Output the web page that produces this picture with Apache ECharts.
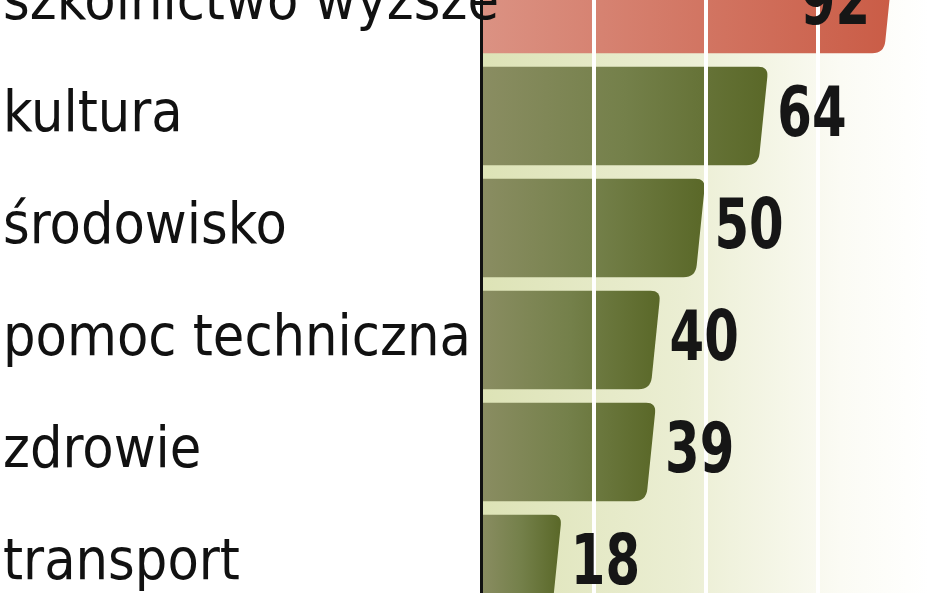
<!DOCTYPE html>
<html>
<head>
<meta charset="utf-8">
<script src="https://cdn.jsdelivr.net/npm/echarts@6/dist/echarts.min.js"></script>
<style>
  html, body { margin: 0; padding: 0; background: #fff; }
  #wrap { width: 948px; height: 593px; overflow: hidden; position: relative; }
  /* wykres jest wycinkiem: pierwszy i ostatni wiersz są przycięte */
  #chart { width: 948px; height: 672px; position: absolute; left: 0; top: -52px; }
</style>
</head>
<body>
<div id="wrap"><div id="chart"></div></div>
<script>
// dane
const categories = ['szkolnictwo wyższe', 'kultura', 'środowisko', 'pomoc techniczna', 'zdrowie', 'transport'];
const values = [92, 64, 50, 40, 39, 18];
const highlighted = 'szkolnictwo wyższe';

const chart = echarts.init(document.getElementById('chart'));
const FONT = 'DejaVu Sans Condensed, sans-serif';

// słupek ze skośną, zaokrągloną krawędzią
const renderBar = (params, api) => {
  const v = api.value(0);
  const idx = api.value(1);
  const start = api.coord([0, idx]);
  const end = api.coord([v, idx]);
  const h = api.size([0, 1])[1] * 0.88;
  const y0 = end[1] - h / 2;
  const y1 = end[1] + h / 2;
  const x0 = start[0];
  const xt = end[0];
  const xb = end[0] - 10;
  const rt = 10;
  const rb = 12;
  const len = Math.sqrt(100 + h * h);
  const d = [
    'M', x0, y0,
    'L', xt - rt, y0,
    'Q', xt, y0, xt - 10 * rt / len, y0 + h * rt / len,
    'L', xb + 10 * rb / len, y1 - h * rb / len,
    'Q', xb, y1, xb - rb, y1,
    'L', x0, y1, 'Z'
  ].join(' ');
  const isHi = categories[idx] === highlighted;
  return {
    type: 'path',
    shape: { pathData: d },
    style: {
      fill: new echarts.graphic.LinearGradient(0, 0, 1, 0, isHi
        ? [{ offset: 0, color: '#db9283' }, { offset: 1, color: '#ca5c46' }]
        : [{ offset: 0, color: '#8a8d62' }, { offset: 0.5, color: '#74804a' }, { offset: 1, color: '#5a6828' }])
    }
  };
};

// etykiety wartości (wąska, pogrubiona cyfra)
const renderLabel = (params, api) => {
  const v = api.value(0);
  const idx = api.value(1);
  const end = api.coord([v, idx]);
  const inside = end[0] + 70 > api.getWidth();
  return {
    type: 'text',
    x: inside ? end[0] - 24 : end[0] + 9,
    y: end[1] + 2,
    scaleX: 0.79,
    style: {
      text: String(v),
      fill: '#161616',
      font: 'bold 70px ' + FONT,
      align: inside ? 'right' : 'left',
      verticalAlign: 'middle'
    }
  };
};

const option = {
  animation: false,
  grid: {
    left: 481,
    right: 18,
    top: 0,
    bottom: 0,
    show: true,
    borderWidth: 0,
    backgroundColor: new echarts.graphic.LinearGradient(0, 0, 1, 0, [
      { offset: 0, color: '#dde3b6' },
      { offset: 0.45, color: '#ebeed3' },
      { offset: 0.8, color: '#fbfbf4' },
      { offset: 1, color: '#ffffff' }
    ])
  },
  xAxis: {
    type: 'value',
    min: 0,
    max: 100,
    interval: 25,
    z: 3,
    axisLine: { show: false },
    axisTick: { show: false },
    axisLabel: { show: false },
    splitLine: { show: true, lineStyle: { color: '#ffffff', width: 4 } }
  },
  yAxis: {
    type: 'category',
    inverse: true,
    data: categories,
    z: 5,
    axisLine: { show: true, lineStyle: { color: '#111', width: 3 } },
    axisTick: { show: false },
    axisLabel: {
      align: 'left',
      margin: 478,
      color: '#111',
      fontFamily: FONT,
      fontSize: 57
    }
  },
  series: [
    {
      type: 'custom',
      z: 2,
      renderItem: renderBar,
      encode: { x: 0, y: 1 },
      data: values.map((v, i) => [v, i])
    },
    {
      type: 'custom',
      z: 6,
      renderItem: renderLabel,
      encode: { x: 0, y: 1 },
      data: values.map((v, i) => [v, i])
    }
  ]
};

chart.setOption(option);
</script>
</body>
</html>
